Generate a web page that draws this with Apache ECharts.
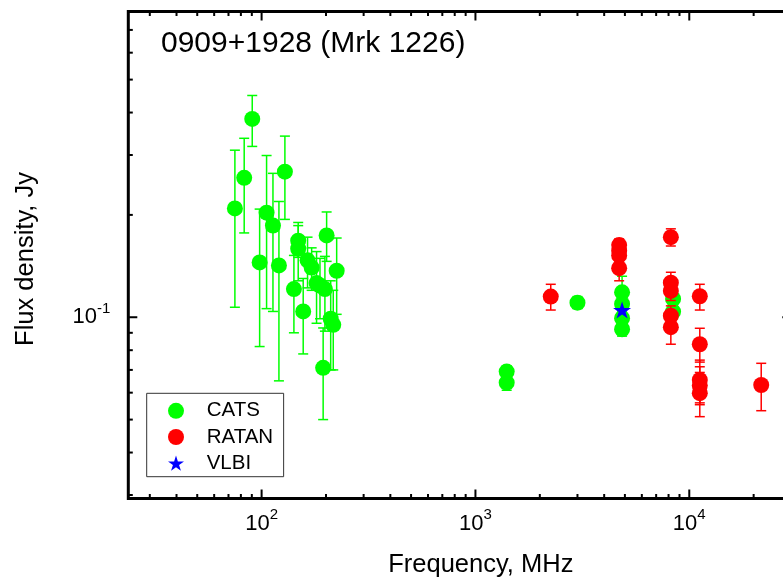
<!DOCTYPE html>
<html><head><meta charset="utf-8">
<script src="https://cdn.jsdelivr.net/npm/echarts@6/dist/echarts.min.js"></script>
<style>html,body{margin:0;padding:0;background:#fff}#c{width:783px;height:579px}</style>
</head><body><div id="c"></div>
<script>
const titleText = '0909+1928 (Mrk 1226)';
const xAxisTitle = 'Frequency, MHz';
const yAxisTitle = 'Flux density, Jy';
const legendNames = ['CATS', 'RATAN', 'VLBI'];

// CATS (frequency MHz, flux Jy, lower/upper error bounds Jy)
const catsFreq = [90.4, 82.9, 75.0, 105.5, 113, 128.5, 97.9, 120.5, 148.3, 148.3, 164, 171.4, 141.6, 180.7, 187.5, 197.7, 156.5, 201.4, 224.4, 210.4, 216.3, 194,
                  1400, 1400, 3000, 4850, 4850, 4850, 4850, 8400, 8400];
const catsFlux = [0.383, 0.257, 0.209, 0.203, 0.186, 0.268, 0.145, 0.142, 0.168, 0.159, 0.147, 0.140, 0.121, 0.126, 0.124, 0.121, 0.104, 0.174, 0.137, 0.099, 0.095, 0.071,
                  0.0692, 0.0642, 0.1104, 0.1184, 0.1094, 0.0993, 0.0922, 0.1132, 0.1039];
const catsLow  = [0.318, 0.177, 0.107, 0.106, 0.104, 0.194, 0.082, 0.065, 0.150, 0.128, 0.122, 0.120, 0.090, 0.096, 0.099, 0.091, 0.078, 0.146, 0.102, 0.070, 0.070, 0.050,
                  0.066, 0.061, 0.106, 0.105, 0.105, 0.095, 0.088, 0.108, 0.099];
const catsHigh = [0.449, 0.336, 0.310, 0.299, 0.265, 0.341, 0.208, 0.219, 0.186, 0.190, 0.172, 0.160, 0.152, 0.156, 0.149, 0.151, 0.130, 0.204, 0.171, 0.128, 0.120, 0.093,
                  0.072, 0.067, 0.115, 0.132, 0.114, 0.104, 0.096, 0.118, 0.109];

// RATAN
const ratanFreq = [2250, 4700, 4700, 4700, 4700, 8200, 8200, 8200, 8200, 8200, 11200, 11200, 11200, 11200, 11200, 21700];
const ratanFlux = [0.115, 0.163, 0.157, 0.152, 0.1394, 0.172, 0.1264, 0.1195, 0.101, 0.0935, 0.1153, 0.0833, 0.0654, 0.063, 0.0598, 0.0632];
const ratanLow  = [0.105, 0.157, 0.151, 0.146, 0.128, 0.162, 0.117, 0.112, 0.094, 0.0833, 0.105, 0.0738, 0.0560, 0.0553, 0.0510, 0.0531];
const ratanHigh = [0.125, 0.170, 0.163, 0.158, 0.1508, 0.182, 0.1356, 0.127, 0.108, 0.1037, 0.125, 0.0928, 0.0748, 0.0715, 0.0688, 0.0732];

// VLBI
const vlbiFreq = [4850];
const vlbiFlux = [0.105];

// axis ticks
const xMajorTicks = [100, 1000, 10000];
const xMinorTicks = [30, 40, 50, 60, 70, 80, 90, 200, 300, 400, 500, 600, 700, 800, 900,
                     2000, 3000, 4000, 5000, 6000, 7000, 8000, 9000, 20000, 30000];
const yMajorTicks = [0.1];
const yMinorTicks = [0.03, 0.04, 0.05, 0.06, 0.07, 0.08, 0.09, 0.2, 0.3, 0.4, 0.5, 0.6, 0.7];
const X_MIN = 23.8, X_MAX = 30000, Y_MIN = 0.0293, Y_MAX = 0.793;

const FONT = "'Liberation Sans', Arial, Helvetica, sans-serif";
const starPath = 'path://M0,-1L0.2245,-0.309L0.951,-0.309L0.363,0.118L0.588,0.809L0,0.382L-0.588,0.809L-0.363,0.118L-0.951,-0.309L-0.2245,-0.309Z';

function zip4(f, s, lo, hi) { return f.map((v, i) => [v, s[i], lo[i], hi[i]]); }

function errRender(color, capHalf) {
  return function (params, api) {
    const x = api.value(0), lo = api.value(2), hi = api.value(3);
    const pLo = api.coord([x, lo]), pHi = api.coord([x, hi]);
    const style = { stroke: color, lineWidth: 1.5, fill: null };
    return { type: 'group', children: [
      { type: 'line', shape: { x1: pLo[0], y1: pLo[1], x2: pHi[0], y2: pHi[1] }, style },
      { type: 'line', shape: { x1: pLo[0] - capHalf, y1: pLo[1], x2: pLo[0] + capHalf, y2: pLo[1] }, style },
      { type: 'line', shape: { x1: pHi[0] - capHalf, y1: pHi[1], x2: pHi[0] + capHalf, y2: pHi[1] }, style }
    ]};
  };
}

const xTickData = xMajorTicks.map(v => [v, Y_MIN, 9]).concat(xMinorTicks.map(v => [v, Y_MIN, 4.5]));
const yTickData = yMajorTicks.map(v => [X_MIN, v, 9]).concat(yMinorTicks.map(v => [X_MIN, v, 4.5]));

function xTickRender(params, api) {
  const p = api.coord([api.value(0), api.value(1)]);
  const cs = params.coordSys, len = api.value(2);
  const style = { stroke: '#000', lineWidth: 2 };
  return { type: 'group', children: [
    { type: 'line', shape: { x1: p[0], y1: cs.y + cs.height, x2: p[0], y2: cs.y + cs.height - len }, style },
    { type: 'line', shape: { x1: p[0], y1: cs.y, x2: p[0], y2: cs.y + len }, style }
  ]};
}
function yTickRender(params, api) {
  const p = api.coord([api.value(0), api.value(1)]);
  const cs = params.coordSys, len = api.value(2);
  const style = { stroke: '#000', lineWidth: 2 };
  return { type: 'group', children: [
    { type: 'line', shape: { x1: cs.x, y1: p[1], x2: cs.x + len, y2: p[1] }, style },
    { type: 'line', shape: { x1: cs.x + cs.width, y1: p[1], x2: cs.x + cs.width - len, y2: p[1] }, style }
  ]};
}

function powLabel(value) {
  const e = Math.log10(value), r = Math.round(e);
  if (Math.abs(e - r) > 1e-6) return '';
  return '{b|10}{s|' + r + '}';
}
const labelRich = {
  b: { fontSize: 22, lineHeight: 22, fontFamily: FONT, color: '#000' },
  s: { fontSize: 15, lineHeight: 15, fontFamily: FONT, color: '#000', padding: [0, 0, 17, 0] }
};

const chart = echarts.init(document.getElementById('c'), null, { renderer: 'canvas' });
chart.setOption({
  animation: false,
  backgroundColor: '#fff',
  title: {
    text: titleText, left: 161, top: 29, padding: 0,
    textStyle: { fontSize: 30, fontWeight: 'normal', fontFamily: FONT, color: '#000' }
  },
  grid: { left: 128.3, top: 11.5, width: 663, height: 487, show: true, borderColor: '#000', borderWidth: 3, backgroundColor: 'transparent',
          containLabel: false, outerBoundsMode: 'none' },
  xAxis: {
    type: 'log', logBase: 10, min: X_MIN, max: X_MAX,
    axisLine: { show: false }, axisTick: { show: false }, splitLine: { show: false }, minorTick: { show: false },
    axisLabel: { formatter: powLabel, rich: labelRich, margin: 14, showMinLabel: false, showMaxLabel: false },
    name: xAxisTitle, nameLocation: 'middle', nameGap: 53,
    nameTextStyle: { fontSize: 25.5, fontFamily: FONT, color: '#000', padding: [0, 0, 0, 42] }
  },
  yAxis: {
    type: 'log', logBase: 10, min: Y_MIN, max: Y_MAX,
    axisLine: { show: false }, axisTick: { show: false }, splitLine: { show: false }, minorTick: { show: false },
    axisLabel: { formatter: powLabel, rich: labelRich, margin: 18, showMinLabel: false, showMaxLabel: false },
    name: yAxisTitle, nameLocation: 'middle', nameGap: 89.5,
    nameTextStyle: { fontSize: 25.5, fontFamily: FONT, color: '#000', padding: [0, 8, 0, 0] }
  },
  legend: {
    orient: 'vertical', left: 146.7, top: 393.3,
    data: [{ name: 'CATS', icon: 'circle' }, { name: 'RATAN', icon: 'circle' }, { name: 'VLBI', icon: starPath }],
    itemWidth: 16, itemHeight: 16, itemGap: 5.2,
    padding: [7, 10.5, 3, 21.3],
    borderColor: '#333', borderWidth: 1, backgroundColor: '#fff',
    textStyle: { fontSize: 20.5, fontFamily: FONT, color: '#000', lineHeight: 20, padding: [0, 0, 0, 17.7] }
  },
  series: [
    { type: 'custom', name: 'CATS err', renderItem: errRender('#00ff00', 5), data: zip4(catsFreq, catsFlux, catsLow, catsHigh), encode: { x: 0, y: 1 }, silent: true, clip: false, z: 2 },
    { type: 'scatter', name: legendNames[0], data: catsFreq.map((v, i) => [v, catsFlux[i]]), symbol: 'circle', symbolSize: 16, itemStyle: { color: '#00ff00', opacity: 1 }, z: 3 },
    { type: 'custom', name: 'RATAN err', renderItem: errRender('#ff0000', 5), data: zip4(ratanFreq, ratanFlux, ratanLow, ratanHigh), encode: { x: 0, y: 1 }, silent: true, clip: false, z: 4 },
    { type: 'scatter', name: legendNames[1], data: ratanFreq.map((v, i) => [v, ratanFlux[i]]), symbol: 'circle', symbolSize: 16, itemStyle: { color: '#ff0000', opacity: 1 }, z: 5 },
    { type: 'scatter', name: legendNames[2], data: vlbiFreq.map((v, i) => [v, vlbiFlux[i]]), symbol: starPath, symbolKeepAspect: true, symbolSize: 18, itemStyle: { color: '#0000ff', opacity: 1 }, z: 6 },
    { type: 'custom', name: 'xticks', renderItem: xTickRender, data: xTickData, encode: { x: 0, y: 1 }, silent: true, clip: false, z: 7 },
    { type: 'custom', name: 'yticks', renderItem: yTickRender, data: yTickData, encode: { x: 0, y: 1 }, silent: true, clip: false, z: 7 }
  ]
});
</script>
</body></html>
